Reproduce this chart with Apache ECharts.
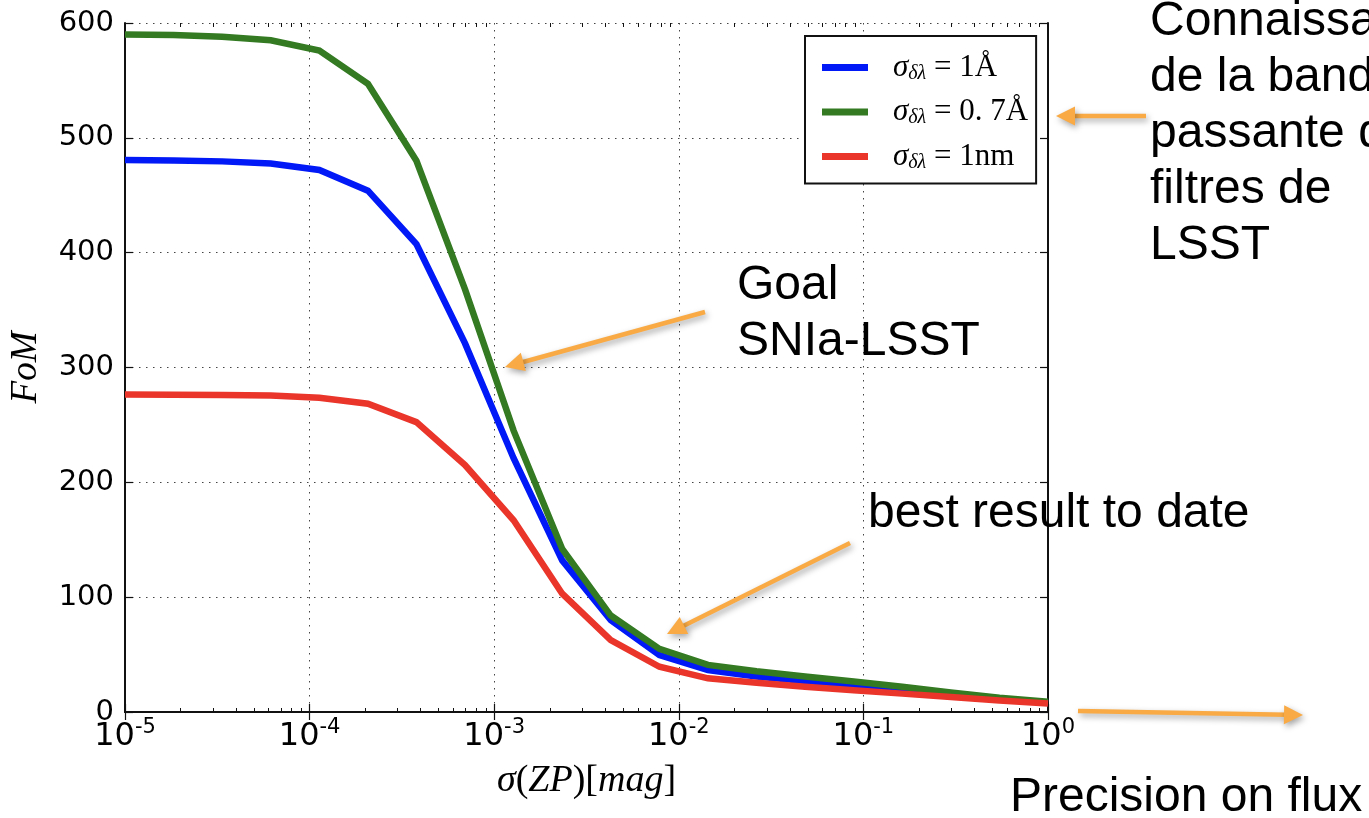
<!DOCTYPE html>
<html>
<head>
<meta charset="utf-8">
<script src="https://cdn.jsdelivr.net/npm/echarts@6/dist/echarts.min.js"></script>
<style>
  html, body { margin: 0; padding: 0; background: #fff; }
  #chart { width: 1369px; height: 818px; }
</style>
</head>
<body>
<div id="chart"></div>
<script>
// Zero-point calibration precision (mag), log-spaced sample points
const zpSigma = [1.0e-5, 1.833e-5, 3.36e-5, 6.16e-5, 1.129e-4, 2.07e-4, 3.79e-4, 6.95e-4,
                 1.274e-3, 2.336e-3, 4.28e-3, 7.85e-3, 1.438e-2, 2.637e-2, 4.83e-2, 8.86e-2,
                 0.1624, 0.2976, 0.5456, 1.0];

// Figure of merit for three filter-bandpass knowledge levels
const fom1A  = [480.6, 480.3, 479.5, 477.7, 472, 454, 407.5, 321, 221, 132, 80, 49.6,
                36.5, 31, 27, 23, 19.5, 15.5, 11.5, 8];
const fom07A = [590, 589.5, 588, 585, 576, 547, 480, 368, 245, 142, 84, 55,
                41, 35.5, 31, 26.5, 22, 17, 12.5, 9];
const fom1nm = [276.5, 276.3, 276, 275.6, 273.6, 268.4, 252.4, 215, 167, 103, 62.6, 39.4,
                29.3, 25.5, 22, 19, 16, 13, 10, 7.5];

const legendValues = ['1Å', '0. 7Å', '1nm'];
const seriesColors = ['#0019f6', '#337a22', '#e9352a'];
const seriesData = [fom1A, fom07A, fom1nm];

const yTicks = [0, 100, 200, 300, 400, 500, 600];

// Minor ticks of the log axis: 2..9 within each decade
const minorTicks = [];
for (let d = -5; d < 0; d++) {
  for (let k = 2; k <= 9; k++) minorTicks.push(k * Math.pow(10, d));
}

const chart = echarts.init(document.getElementById('chart'), null, { renderer: 'canvas' });

const gridDash = { color: '#444', width: 1, type: [1.5, 5.5] };
const frameLine = { show: true, lineStyle: { color: '#111', width: 2 } };

function logAxis(position, opts) {
  return Object.assign({
    type: 'log',
    logBase: 10,
    min: 1e-5,
    max: 1,
    position: position,
    gridIndex: 0,
    axisLine: frameLine,
    axisTick: { show: true, inside: true, length: 8, lineStyle: { color: '#111', width: 1.2 } },
    axisLabel: { show: false },
    splitLine: { show: false },
    minorTick: { show: false }
  }, opts);
}

function minorAxis(position) {
  return logAxis(position, {
    axisLine: { show: false },
    axisTick: { show: true, inside: true, length: 4, customValues: minorTicks,
                lineStyle: { color: '#111', width: 1 } }
  });
}

const series = seriesData.map((vals, i) => ({
  name: 'σδλ = ' + legendValues[i],
  type: 'line',
  xAxisIndex: 0,
  yAxisIndex: 0,
  data: zpSigma.map((x, j) => [x, vals[j]]),
  showSymbol: false,
  symbol: 'none',
  smooth: false,
  lineStyle: { color: seriesColors[i], width: 6.5, cap: 'butt', join: 'miter' },
  itemStyle: { color: seriesColors[i] },
  emphasis: { disabled: true },
  animation: false
}));

// Orange callout arrows with a soft drop shadow
const arrowColor = '#f9aa44';
const shadow = { shadowBlur: 6, shadowColor: 'rgba(0,0,0,0.35)', shadowOffsetX: 2, shadowOffsetY: 3 };
function arrow(x1, y1, x2, y2) {
  const dx = x2 - x1, dy = y2 - y1, L = Math.hypot(dx, dy);
  const ux = dx / L, uy = dy / L, hl = 19, hw = 9.5;
  const bx = x2 - ux * hl, by = y2 - uy * hl;
  return [
    { type: 'line', z: 10, shape: { x1: x1, y1: y1, x2: bx + ux * 2, y2: by + uy * 2 },
      style: Object.assign({ stroke: arrowColor, lineWidth: 4.5 }, shadow) },
    { type: 'polygon', z: 10, shape: { points: [[x2, y2], [bx - uy * hw, by + ux * hw], [bx + uy * hw, by - ux * hw]] },
      style: Object.assign({ fill: arrowColor }, shadow) }
  ];
}
function note(x, y, text) {
  return { type: 'text', z: 11, x: x, y: y,
    style: { text: text, fill: '#000', fontSize: 48, fontFamily: '"Liberation Sans", Arial, sans-serif',
             lineHeight: 56, verticalAlign: 'top', align: 'left' } };
}

const option = {
  backgroundColor: '#fff',
  animation: false,
  grid: { left: 124, right: 321, top: 23, bottom: 106, containLabel: false },
  xAxis: [
    logAxis('bottom', {
      name: '{i|σ}{r|(}{i|ZP}{r|)[}{i|mag}{r|]}',
      nameLocation: 'middle',
      nameGap: 50,
      nameTextStyle: {
        rich: {
          i: { fontFamily: '"Liberation Serif", serif', fontStyle: 'italic', fontSize: 38, color: '#000' },
          r: { fontFamily: '"Liberation Serif", serif', fontSize: 38, color: '#000' }
        }
      },
      axisLabel: {
        show: true,
        margin: 5,
        formatter: function (v) {
          const e = Math.round(Math.log10(v));
          return '{b|10}{s|' + e + '}';
        },
        rich: {
          b: { fontFamily: '"DejaVu Sans", sans-serif', fontSize: 32, color: '#000', lineHeight: 36, verticalAlign: 'bottom' },
          s: { fontFamily: '"DejaVu Sans", sans-serif', fontSize: 21, color: '#000', lineHeight: 36, verticalAlign: 'top', padding: [0, 0, 14, 0] }
        }
      },
      splitLine: { show: true, lineStyle: gridDash }
    }),
    logAxis('top', {}),
    minorAxis('bottom'),
    minorAxis('top')
  ],
  yAxis: [
    {
      type: 'value', min: 0, max: 600, interval: 100, position: 'left',
      name: 'FoM', nameLocation: 'middle', nameGap: 80,
      nameTextStyle: { fontFamily: '"Liberation Serif", serif', fontStyle: 'italic', fontSize: 37, color: '#000' },
      axisLine: frameLine,
      axisTick: { show: true, inside: true, length: 8, lineStyle: { color: '#111', width: 1.2 } },
      axisLabel: { show: true, margin: 11, fontFamily: '"DejaVu Sans", sans-serif', fontSize: 29, color: '#000',
                   customValues: yTicks },
      splitLine: { show: true, lineStyle: gridDash }
    },
    {
      type: 'value', min: 0, max: 600, interval: 100, position: 'right',
      axisLine: frameLine,
      axisTick: { show: true, inside: true, length: 8, lineStyle: { color: '#111', width: 1.2 } },
      axisLabel: { show: false },
      splitLine: { show: false }
    }
  ],
  legend: {
    orient: 'vertical',
    left: 805,
    top: 36,
    padding: [16, 8, 11, 17],
    itemGap: 13,
    itemWidth: 46,
    itemHeight: 7,
    icon: 'rect',
    backgroundColor: '#fff',
    borderColor: '#111',
    borderWidth: 2,
    borderRadius: 0,
    selectedMode: false,
    data: series.map(s => s.name),
    formatter: function (name) {
      const v = name.split('= ')[1];
      return '{m|σ}{sub|δλ}{r| = ' + v + '}';
    },
    textStyle: {
      padding: [0, 0, 0, 20],
      rich: {
        m: { fontFamily: '"Liberation Serif", serif', fontStyle: 'italic', fontSize: 31, color: '#000', lineHeight: 32 },
        sub: { fontFamily: '"Liberation Serif", serif', fontStyle: 'italic', fontSize: 20, color: '#000', lineHeight: 32, verticalAlign: 'bottom' },
        r: { fontFamily: '"Liberation Serif", serif', fontSize: 31, color: '#000', lineHeight: 32 }
      }
    }
  },
  series: series,
  graphic: [].concat(
    arrow(1146, 116, 1056, 116),
    arrow(705, 312, 505, 367),
    arrow(850, 543, 667, 634),
    arrow(1078, 711, 1303, 715),
    [
      note(1150, -6, 'Connaissance\nde la bande\npassante des\nfiltres de\nLSST'),
      note(737, 258, 'Goal\nSNIa-LSST'),
      note(868, 486, 'best result to date'),
      note(1010, 770, 'Precision on flux')
    ]
  )
};

chart.setOption(option);
</script>
</body>
</html>
